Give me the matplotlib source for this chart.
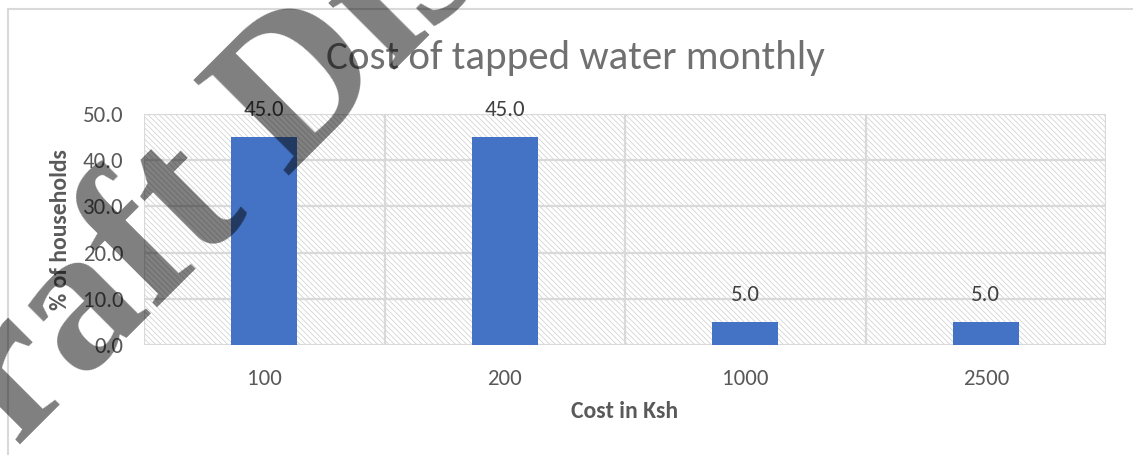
import matplotlib
matplotlib.use("Agg")
import matplotlib.pyplot as plt
from matplotlib.patches import Rectangle
from matplotlib import font_manager as fm

categories = ["100", "200", "1000", "2500"]
values = [45.0, 45.0, 5.0, 5.0]
yticks = [0, 10, 20, 30, 40, 50]

title = "Cost of tapped water monthly"
xlabel = "Cost in Ksh"
ylabel = "% of households"
watermark = "Draft Discussion"

installed = {f.name for f in fm.fontManager.ttflist}
if "Carlito" in installed:
    plt.rcParams["font.family"] = ["Carlito", "DejaVu Sans"]
    fs_tick, fs_lab, fs_title, fs_data = 16.5, 17, 29.5, 16.5
else:
    plt.rcParams["font.family"] = ["Lato", "DejaVu Sans"]
    fs_tick, fs_lab, fs_title, fs_data = 14, 15, 27.5, 14

plt.rcParams["hatch.linewidth"] = 0.5
plt.rcParams["hatch.color"] = "#c8c8c8"

W, H = 1133, 455
fig = plt.figure(figsize=(W / 100, H / 100), dpi=100)

# outer chart border
fig.patches.append(Rectangle((8 / W, -0.05), 1.1, 1 - 9 / H + 0.05,
                             transform=fig.transFigure, fill=False,
                             edgecolor="#d9d9d9", linewidth=1.5, zorder=0))

ax = fig.add_axes([144 / W, 1 - 345 / H, (1106 - 144) / W, (345 - 114) / H])
ax.set_facecolor("white")
ax.add_patch(Rectangle((0, 0), 1, 1, transform=ax.transAxes, facecolor="white",
                       hatch="\\" * 6, edgecolor="#cccccc", linewidth=0, zorder=0))

x = list(range(len(categories)))
bars = ax.bar(x, values, width=0.275, color="#4472C4", zorder=3)
for xi, v in zip(x, values):
    ax.text(xi, v + 3.6, f"{v:.1f}", ha="center", va="bottom", fontsize=fs_data,
            color="#404040", zorder=4)

ax.set_xlim(-0.5, len(categories) - 0.5)
ax.set_ylim(0, 50)
ax.set_yticks(yticks)
ax.set_yticklabels([f"{t:.1f}" for t in yticks], fontsize=fs_tick, color="#595959")
ax.set_xticks(x)
ax.set_xticklabels(categories, fontsize=fs_tick, color="#595959")
ax.set_xticks([i - 0.5 for i in range(len(categories) + 1)], minor=True)
ax.tick_params(axis="both", which="both", length=0)
ax.tick_params(axis="x", pad=17)
ax.tick_params(axis="y", pad=15)
ax.grid(axis="y", which="major", color="#d9d9d9", linewidth=1.6, zorder=1)
ax.grid(axis="x", which="minor", color="#d9d9d9", linewidth=1.6, zorder=1)
ax.grid(axis="x", which="major", visible=False)
for s in ax.spines.values():
    s.set_visible(False)

ax.set_xlabel(xlabel, fontsize=fs_lab, fontweight="bold", color="#595959", labelpad=9)
ax.set_ylabel(ylabel, fontsize=fs_lab, fontweight="bold", color="#595959", labelpad=8)

fig.text(575 / W, 1 - 58 / H, title, ha="center", va="center", fontsize=fs_title,
         color="#707070")

serif_fp = fm.FontProperties(family="Liberation Serif", weight="bold", size=148)
fig.text(-88 / W, 1 - 553 / H, watermark, ha="left", va="baseline",
         rotation=45, rotation_mode="anchor", fontproperties=serif_fp,
         color="black", alpha=0.5, zorder=10)

fig.savefig("out.png", dpi=100)
